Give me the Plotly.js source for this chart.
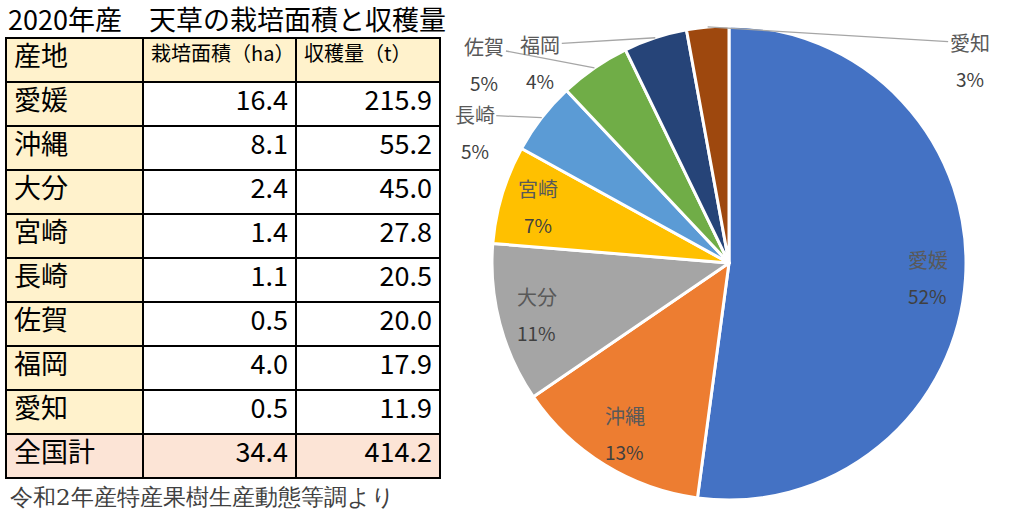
<!DOCTYPE html>
<html>
<head>
<meta charset="utf-8">
<script src="https://cdn.plot.ly/plotly-3.0.1.min.js"></script>
<style>
  body { margin: 0; background: #fff; }
  #chart { width: 1010px; height: 523px; }
</style>
</head>
<body>
<div id="chart"></div>
<script>
// 2020年産 天草 産地別データ
const regions = ['愛媛', '沖縄', '大分', '宮崎', '長崎', '佐賀', '福岡', '愛知'];
const area = [16.4, 8.1, 2.4, 1.4, 1.1, 0.5, 4.0, 0.5];
const harvest = [215.9, 55.2, 45.0, 27.8, 20.5, 20.0, 17.9, 11.9];
const totalLabel = '全国計';
const totalArea = 34.4;
const totalHarvest = 414.2;
const headers = ['産地', '栽培面積（ha）', '収穫量（t）'];

const sliceColors = ['#4472C4', '#ED7D31', '#A5A5A5', '#FFC000', '#5B9BD5', '#70AD47', '#264478', '#9E480E'];
const FONT = '"Noto Sans CJK JP", "Noto Sans", sans-serif';

const W = 1010, H = 523;

// table
let colRegion = regions.concat([totalLabel]);
let colArea = area.concat([totalArea]).map(v => v.toFixed(1));
let colHarvest = harvest.concat([totalHarvest]).map(v => v.toFixed(1));
let nRows = colRegion.length;

let yellow = '#FFF2CC', peach = '#FCE4D6';
let fillRegion = colRegion.map((r, i) => i === nRows - 1 ? peach : yellow);
let fillNum = colRegion.map((r, i) => i === nRows - 1 ? peach : '#ffffff');

let table = {
    type: 'table',
    domain: { x: [6 / W, 440 / W], y: [1 - 482 / H, 1 - 38 / H] },
    columnwidth: [137, 153, 144],
    header: {
        values: headers,
        align: 'left',
        height: 44,
        fill: { color: yellow },
        line: { color: '#000', width: 1.5 },
        font: { family: FONT, size: [27, 20, 20], color: '#000' }
    },
    cells: {
        values: [colRegion, colArea, colHarvest],
        align: ['left', 'right', 'right'],
        height: 44,
        fill: { color: [fillRegion, fillNum, fillNum] },
        line: { color: '#000', width: 1.5 },
        font: { family: FONT, size: [27, 27, 27], color: '#000' }
    }
};

// pie
let pieDomain = { x: [492 / W, 966 / W], y: [23 / H, 497 / H] };

let pie = {
    type: 'pie',
    labels: regions,
    values: harvest,
    sort: false,
    direction: 'clockwise',
    rotation: 0,
    textinfo: 'none',
    hoverinfo: 'label+percent',
    marker: { colors: sliceColors, line: { color: '#ffffff', width: 3 } },
    domain: pieDomain,
    showlegend: false
};

// label placement from slice angles
let sum = harvest.reduce((a, b) => a + b, 0);
let cx = (pieDomain.x[0] + pieDomain.x[1]) / 2;
let cy = (pieDomain.y[0] + pieDomain.y[1]) / 2;
let rPx = Math.min((pieDomain.x[1] - pieDomain.x[0]) * W, (pieDomain.y[1] - pieDomain.y[0]) * H) / 2;

// outside labels: pixel offset of the label from the slice edge
let outside = {
    '長崎': [-67, -3],
    '佐賀': [-110, -21],
    '福岡': [-115, 7],
    '愛知': [262, 16]
};

let annotations = [];
let cum = 0;
regions.forEach((name, i) => {
    let frac = harvest[i] / sum;
    let mid = (cum + frac / 2) * 2 * Math.PI;
    cum += frac;
    let pct = Math.round(frac * 100) + '%';
    let dx = Math.sin(mid), dy = Math.cos(mid);

    if (outside[name]) {
        let ex = cx + dx * rPx / W;
        let ey = cy + dy * rPx / H;
        let off = outside[name];
        annotations.push({
            x: ex, y: ey, xref: 'paper', yref: 'paper',
            text: name, showarrow: true, ax: off[0], ay: off[1],
            arrowhead: 0, arrowwidth: 1.3, arrowcolor: '#A6A6A6', standoff: 0,
            font: { family: FONT, size: 20, color: '#595959' }
        });
        annotations.push({
            x: ex + off[0] / W, y: ey - (off[1] + 36) / H, xref: 'paper', yref: 'paper',
            xanchor: 'center', yanchor: 'middle',
            text: pct, showarrow: false,
            font: { family: FONT, size: 19, color: '#404040' }
        });
    } else {
        let lr = 0.84 * rPx;
        let lx = cx + dx * lr / W;
        let ly = cy + dy * lr / H;
        annotations.push({
            x: lx, y: ly + 17 / H, xref: 'paper', yref: 'paper',
            xanchor: 'center', yanchor: 'middle',
            text: name, showarrow: false,
            font: { family: FONT, size: 20, color: '#595959' }
        });
        annotations.push({
            x: lx, y: ly - 19 / H, xref: 'paper', yref: 'paper',
            xanchor: 'center', yanchor: 'middle',
            text: pct, showarrow: false,
            font: { family: FONT, size: 19, color: '#404040' }
        });
    }
});

// source note
annotations.push({
    x: 8 / W, y: 1 - 497 / H, xref: 'paper', yref: 'paper',
    xanchor: 'left', yanchor: 'middle',
    text: '令和2年産特産果樹生産動態等調より', showarrow: false,
    font: { family: '"DejaVu Serif", serif', size: 23, color: '#404040' }
});

let layout = {
    title: {
        text: '2020年産　天草の栽培面積と収穫量',
        x: 8 / W, xanchor: 'left',
        y: 1 - 21 / H, yanchor: 'middle',
        font: { family: FONT, size: 27, color: '#000' }
    },
    width: W,
    height: H,
    margin: { l: 0, r: 0, t: 0, b: 0 },
    paper_bgcolor: '#ffffff',
    annotations: annotations
};

Plotly.newPlot('chart', [table, pie], layout, { displayModeBar: false });
</script>
</body>
</html>
